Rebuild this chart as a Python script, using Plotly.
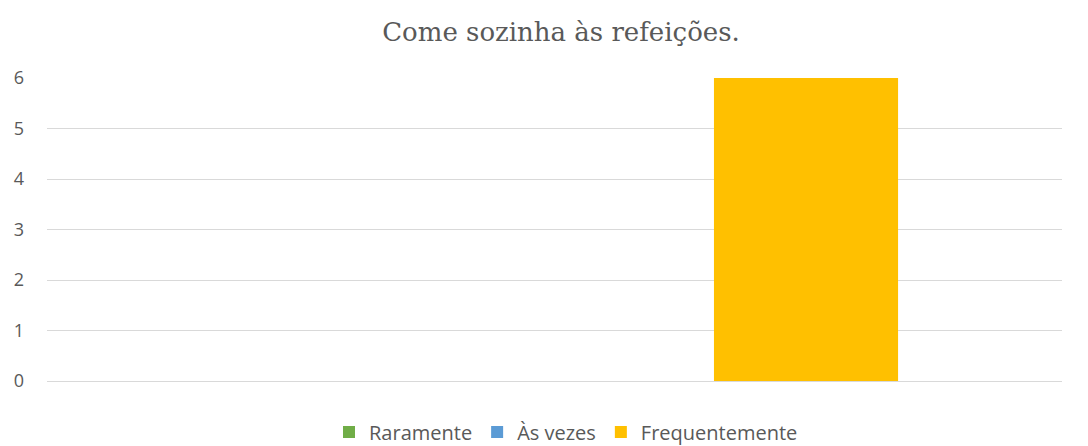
import plotly.graph_objects as go

categories = ["Come sozinha às refeições."]
series_names = ["Raramente", "Às vezes", "Frequentemente"]
series_values = [[0], [0], [6]]
series_colors = ["#70AD47", "#5B9BD5", "#FFC000"]
y_ticks = [0, 1, 2, 3, 4, 5, 6]

fig = go.Figure()
for name, vals, col in zip(series_names, series_values, series_colors):
    fig.add_trace(go.Bar(x=categories, y=vals, name=name,
                         marker=dict(color=col, line=dict(width=0))))

fig.update_layout(
    width=1088, height=446,
    margin=dict(l=47, r=26, t=78, b=65, autoexpand=False),
    paper_bgcolor="white", plot_bgcolor="white",
    barmode="group", bargap=0.2566, bargroupgap=0.268,
    title=dict(text="Come sozinha às refeições.", xref="container", x=561 / 1088,
               xanchor="center", yref="container", y=1 - 32 / 446, yanchor="middle",
               font=dict(family="DejaVu Serif", size=26, color="#595959")),
    showlegend=True,
    legend=dict(orientation="h", xref="container", x=566 / 1088, xanchor="center",
                yref="container", y=1 - 432 / 446, yanchor="middle",
                font=dict(family="Open Sans", size=20, color="#595959"),
                itemwidth=30, traceorder="normal"),
    font=dict(family="Open Sans", color="#595959"),
)
fig.update_xaxes(showticklabels=False, showgrid=False, showline=False, zeroline=False,
                 range=[-0.5, 0.5])
fig.update_yaxes(range=[0, 6], tickvals=y_ticks, showgrid=True, gridcolor="#D9D9D9",
                 gridwidth=1.3, zeroline=True, zerolinecolor="#D9D9D9", zerolinewidth=1.3,
                 tickfont=dict(family="Open Sans", size=18, color="#595959"),
                 ticks="", ticklabelstandoff=22)

fig.write_html("out.html", config={"displayModeBar": False},
               post_script="document.body.style.margin='0';")
